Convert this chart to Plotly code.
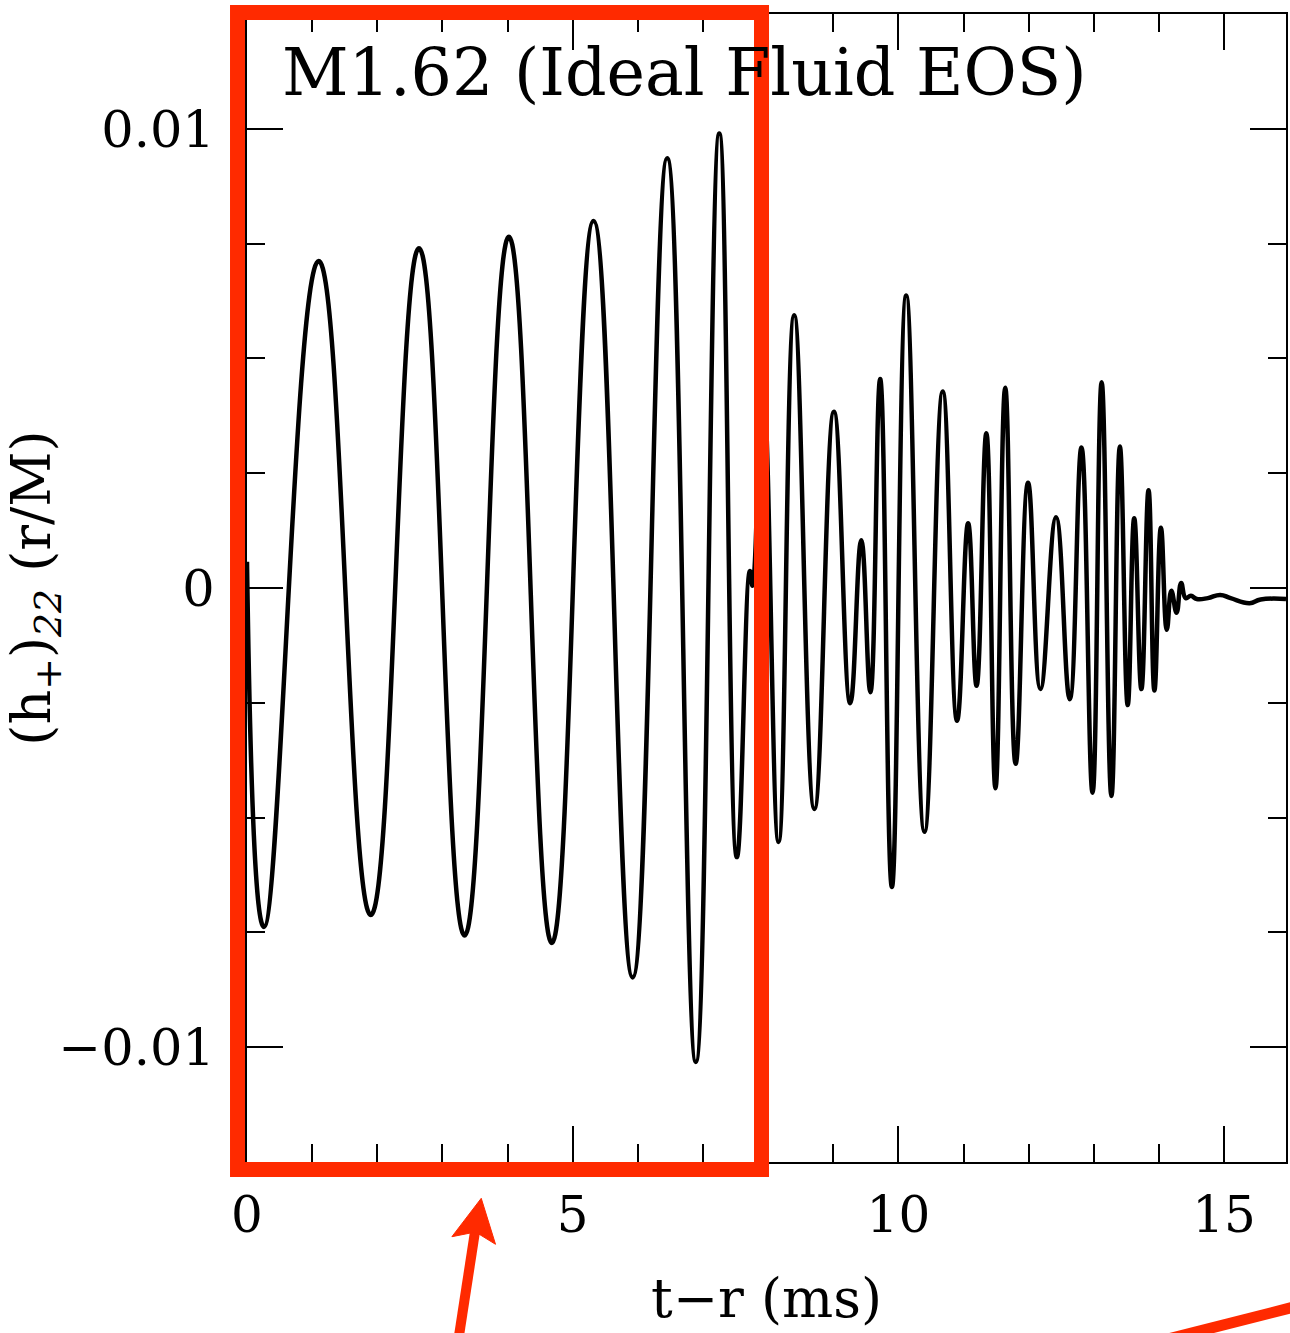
import numpy as np
import plotly.graph_objects as go

# ---- data (time in ms, strain in units of 1e-3) ----
t_ms = [0.00, 0.26, 1.10, 1.90, 2.64, 3.34, 4.02, 4.68, 5.32, 5.92, 6.45, 6.89,
        7.25, 7.52, 7.72, 7.76, 7.92, 8.16, 8.40, 8.71, 9.01, 9.26, 9.43, 9.57,
        9.72, 9.90, 10.12, 10.40, 10.68, 10.90, 11.07, 11.20, 11.35, 11.49,
        11.64, 11.80, 11.99, 12.18, 12.42, 12.63, 12.81, 12.98, 13.12, 13.27,
        13.40, 13.52, 13.62, 13.73, 13.84, 13.93, 14.03, 14.12, 14.19, 14.27,
        14.34, 14.41, 14.49, 14.58, 14.75, 14.94, 15.10, 15.39, 15.56, 15.95]
h_e3 = [0.57, -7.38, 7.12, -7.12, 7.40, -7.57, 7.65, -7.73, 7.99, -8.48, 9.36,
        -10.32, 9.90, -5.86, 0.37, 0.05, 4.40, -5.53, 5.94, -4.81, 3.84, -2.51,
        1.04, -2.27, 4.55, -6.51, 6.37, -5.31, 4.28, -2.89, 1.41, -2.13, 3.37,
        -4.36, 4.36, -3.83, 2.29, -2.20, 1.54, -2.42, 3.06, -4.46, 4.48, -4.53,
        3.08, -2.55, 1.52, -2.20, 2.13, -2.23, 1.31, -0.91, -0.06, -0.54, 0.11,
        -0.22, -0.17, -0.24, -0.22, -0.15, -0.22, -0.33, -0.25, -0.24]
h_plus = np.array(h_e3) * 1e-3

x_ticks = [0, 5, 10, 15]
y_ticks = [-0.01, 0, 0.01]
y_ticktext = ["\u22120.01", "0", "0.01"]

title_text = "M1.62 (Ideal Fluid EOS)"
x_title = "t\u2212r (ms)"
y_title = "(h<sub>+</sub>)<sub><i>22</i></sub> (r/M)"

FONT = "DejaVu Serif"
RED = "#ff2a00"

fig = go.Figure()
fig.add_trace(go.Scatter(
    x=t_ms, y=h_plus, mode="lines",
    line=dict(color="black", width=4.5, shape="spline", smoothing=1.3),
    showlegend=False, hoverinfo="skip"))

# plot-area geometry in pixels (for converting decoration positions to paper)
L, R, T, B = 247, 1288, 14, 1162
def px(xp):
    return (xp - L) / (R - L)
def py(yp):
    return (B - yp) / (B - T)

shapes = [
    # red highlight rectangle
    dict(type="rect", xref="paper", yref="paper",
         x0=px(237.5), x1=px(762.5), y0=py(1169.5), y1=py(12.5),
         line=dict(color=RED, width=15), layer="above"),
    # arrow shaft
    dict(type="line", xref="paper", yref="paper",
         x0=px(458), y0=py(1345), x1=px(476), y1=py(1228),
         line=dict(color=RED, width=10), layer="above"),
    # arrow head
    dict(type="path", xref="paper", yref="paper",
         path=(f"M {px(481.7)} {py(1198.3)} L {px(496)} {py(1244.3)} "
               f"L {px(476)} {py(1232)} L {px(452.3)} {py(1236.7)} Z"),
         fillcolor=RED, line=dict(color=RED, width=1), layer="above"),
    # second red stroke at bottom right
    dict(type="line", xref="paper", yref="paper",
         x0=px(1150), y0=py(1344), x1=px(1300), y1=py(1306),
         line=dict(color=RED, width=11), layer="above"),
]

fig.update_layout(
    width=1290, height=1333,
    margin=dict(l=L, r=1290 - R, t=T, b=1333 - B, pad=0),
    paper_bgcolor="white", plot_bgcolor="white",
    font=dict(family=FONT, color="black", size=48),
    shapes=shapes,
    annotations=[dict(text=title_text, xref="paper", yref="paper",
                      x=px(280), y=py(72), xanchor="left", yanchor="middle",
                      showarrow=False, font=dict(family=FONT, size=65, color="black"))],
)

fig.update_xaxes(
    range=[0, 15.95], tickvals=x_ticks, ticks="inside", ticklen=36, tickwidth=2,
    tickcolor="black", showline=True, linewidth=2, linecolor="black",
    mirror="ticks", showgrid=False, zeroline=False,
    minor=dict(dtick=1, tick0=0, ticks="inside", ticklen=18, tickwidth=2,
               tickcolor="black", showgrid=False),
    tickfont=dict(family=FONT, size=50, color="black"),
    ticklabelstandoff=8,
    title=dict(text=x_title, font=dict(family=FONT, size=54, color="black"), standoff=36),
)
fig.update_yaxes(
    range=[-0.0125, 0.0125], tickvals=y_ticks, ticktext=y_ticktext,
    ticks="inside", ticklen=36, tickwidth=2,
    tickcolor="black", showline=True, linewidth=2, linecolor="black",
    mirror="ticks", showgrid=False, zeroline=False,
    minor=dict(dtick=0.0025, tick0=0, ticks="inside", ticklen=18, tickwidth=2,
               tickcolor="black", showgrid=False),
    tickfont=dict(family=FONT, size=51, color="black"),
    ticklabelstandoff=20,
    title=dict(text=y_title, font=dict(family=FONT, size=54, color="black"), standoff=4),
)

fig.write_html("out.html")
